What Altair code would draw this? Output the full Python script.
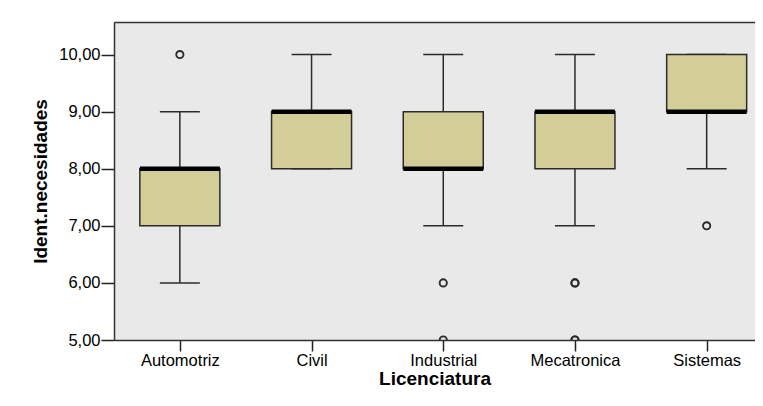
import altair as alt
import pandas as pd

categories = ["Automotriz", "Civil", "Industrial", "Mecatronica", "Sistemas"]
lower = [6, 8, 7, 7, 8]
q1 = [7, 8, 8, 8, 9]
median = [8, 9, 8, 9, 9]
q3 = [8, 9, 9, 9, 10]
upper = [9, 10, 10, 10, 10]

outlier_cat = ["Automotriz", "Industrial", "Industrial", "Mecatronica", "Mecatronica",
               "Mecatronica", "Mecatronica", "Sistemas"]
outlier_val = [10, 6, 5, 6, 6, 5, 5, 7]

y_ticks = [5, 6, 7, 8, 9, 10]

box = pd.DataFrame({
    "cat": categories,
    "idx": list(range(len(categories))),
    "lower": lower, "q1": q1, "median": median, "q3": q3, "upper": upper,
})
outl = pd.DataFrame({
    "cat": outlier_cat,
    "idx": [categories.index(c) for c in outlier_cat],
    "val": outlier_val,
})

label_expr = "[" + ",".join("'%s'" % c for c in categories) + "][datum.value]"

xs = alt.Scale(domain=[-0.5, 4.367], nice=False, zero=False, padding=0)
ys = alt.Scale(domain=[5, 10.57], nice=False, zero=False, padding=0)

frame_col = "#333333"
x_axis = alt.Axis(values=list(range(len(categories))), labelExpr=label_expr,
                  tickSize=11, tickColor="#222", tickWidth=1.5, labelPadding=1,
                  domain=True, domainColor=frame_col, domainWidth=1.5,
                  grid=False, title="Licenciatura", titlePadding=1,
                  titleFontSize=19, titleFontWeight="bold", labelFlush=False,
                  labelOverlap=False, labelFont="Liberation Sans", labelFontSize=16.5,
                  labelColor="#000000", titleFont="Liberation Sans", titleColor="#000000")
x_top = alt.Axis(orient="top", labels=False, ticks=False, grid=False, title=None,
                 domain=True, domainColor=frame_col, domainWidth=1.5)
y_axis = alt.Axis(values=y_ticks,
                  labelExpr="replace(format(datum.value, '.2f'), '.', ',')",
                  tickSize=13, tickColor="#222", tickWidth=1.5, labelPadding=1,
                  domain=True, domainColor=frame_col, domainWidth=1.5,
                  grid=False, title="Ident.necesidades", titlePadding=8,
                  titleFontSize=19, titleFontWeight="bold",
                  labelFont="Liberation Sans", labelFontSize=16.5,
                  labelColor="#000000", titleFont="Liberation Sans", titleColor="#000000")

base = alt.Chart(box)
X = alt.X("idx:Q", scale=xs, axis=x_axis)
Xtop = alt.X("idx:Q", scale=xs, axis=x_top)
Xn = alt.X("idx:Q", scale=xs, axis=None)
line_col = "#2b2b2b"

whisk_lo = base.mark_rule(color=line_col, strokeWidth=1.5).encode(
    x=X, y=alt.Y("lower:Q", scale=ys, axis=y_axis), y2="q1:Q")
whisk_hi = base.mark_rule(color=line_col, strokeWidth=1.5).encode(
    x=Xtop, y=alt.Y("q3:Q", scale=ys), y2="upper:Q")
cap_lo = base.mark_rule(color=line_col, strokeWidth=1.5, xOffset=-20, x2Offset=20).encode(
    x=Xn, x2="idx:Q", y=alt.Y("lower:Q", scale=ys))
cap_hi = base.mark_rule(color=line_col, strokeWidth=1.5, xOffset=-20, x2Offset=20).encode(
    x=Xn, x2="idx:Q", y=alt.Y("upper:Q", scale=ys))
boxes = base.mark_bar(size=80, fill="#D3CE97", stroke=line_col, strokeWidth=1.5).encode(
    x=Xn, y=alt.Y("q1:Q", scale=ys), y2="q3:Q")
med = base.mark_rule(color="#000000", strokeWidth=4.5, xOffset=-40, x2Offset=40).encode(
    x=Xn, x2="idx:Q", y=alt.Y("median:Q", scale=ys))
pts = alt.Chart(outl).mark_point(shape="circle", filled=False, size=52, strokeWidth=1.9,
                                 color=line_col, opacity=1, clip=True).encode(
    x=Xn, y=alt.Y("val:Q", scale=ys))

chart = alt.layer(whisk_lo, whisk_hi, cap_lo, cap_hi, boxes, med, pts).resolve_axis(
    x="independent"
).properties(
    width=641, height=318,
    autosize=alt.AutoSizeParams(type="none"),
    padding={"left": 106, "top": 14, "right": 0, "bottom": 52},
    background="#FFFFFF",
).configure_view(
    fill="#E9E9E9", stroke=None
)

chart.save("out.html", embed_options={"renderer": "svg", "actions": False})
